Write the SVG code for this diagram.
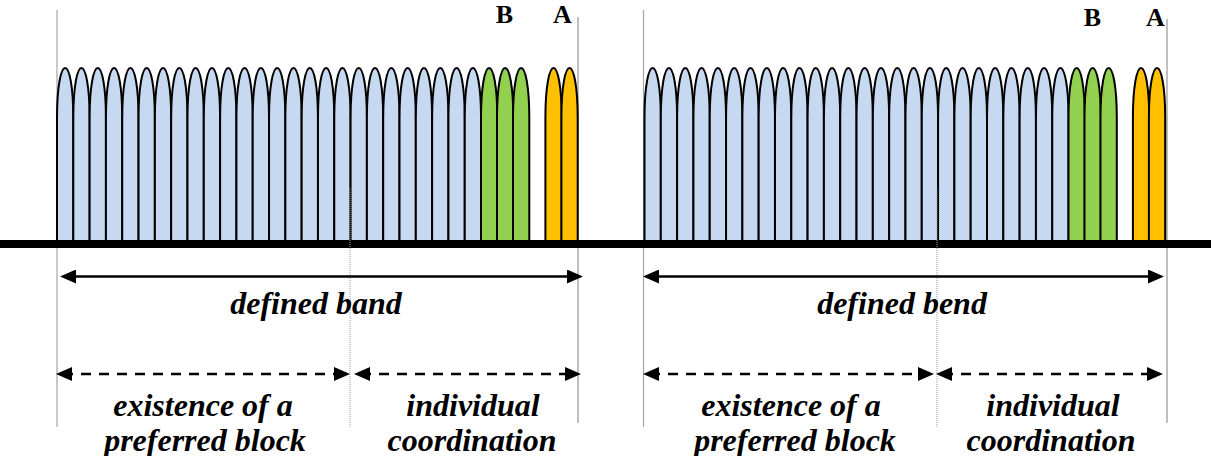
<svg xmlns="http://www.w3.org/2000/svg" xmlns:xlink="http://www.w3.org/1999/xlink" width="1211" height="456" viewBox="0 0 1211 456">
<style>
.lobe{stroke:#000;stroke-width:2;stroke-linejoin:round}
.blue{fill:#C6D9F1}
.green{fill:#92D050}
.orange{fill:#FFC000}
.guide{stroke:#a6a6a6;stroke-width:1.2;fill:none}
.guide2{stroke:#bfbfbf;stroke-width:2;fill:none}
.dots{stroke:#9a9a9a;stroke-width:1;stroke-dasharray:1 1;fill:none}
.arr{stroke:#000;stroke-width:2.5;fill:none;marker-start:url(#ah);marker-end:url(#ah)}
.dash{stroke-dasharray:10 8}
.lbl{font-family:"Liberation Serif","Times New Roman",serif;font-weight:bold;font-style:italic;font-size:32px;fill:#000;text-anchor:middle}
.ch{font-family:"Liberation Serif","Times New Roman",serif;font-weight:bold;font-size:26px;fill:#000;text-anchor:middle}
</style>
<defs>
<path id="lb" d="M0,240 V118 C0,86 4,68 8.15,68 C12.3,68 16.3,86 16.3,118 V240"/>
<marker id="ah" markerUnits="userSpaceOnUse" markerWidth="16" markerHeight="14" refX="9" refY="7" orient="auto-start-reverse">
<path d="M0,0 L16,7 L0,14 Z" fill="#000"/>
</marker>
<g id="panel">
<g class="lobe blue">
<use xlink:href="#lb" x="57"/><use xlink:href="#lb" x="73.31"/><use xlink:href="#lb" x="89.62"/><use xlink:href="#lb" x="105.93"/><use xlink:href="#lb" x="122.24"/><use xlink:href="#lb" x="138.55"/><use xlink:href="#lb" x="154.86"/><use xlink:href="#lb" x="171.17"/><use xlink:href="#lb" x="187.48"/><use xlink:href="#lb" x="203.79"/><use xlink:href="#lb" x="220.1"/><use xlink:href="#lb" x="236.41"/><use xlink:href="#lb" x="252.72"/><use xlink:href="#lb" x="269.03"/><use xlink:href="#lb" x="285.34"/><use xlink:href="#lb" x="301.65"/><use xlink:href="#lb" x="317.96"/><use xlink:href="#lb" x="334.27"/><use xlink:href="#lb" x="350.58"/><use xlink:href="#lb" x="366.89"/><use xlink:href="#lb" x="383.2"/><use xlink:href="#lb" x="399.51"/><use xlink:href="#lb" x="415.82"/><use xlink:href="#lb" x="432.13"/><use xlink:href="#lb" x="448.44"/><use xlink:href="#lb" x="464.75"/>
</g>
<g class="lobe green">
<use xlink:href="#lb" x="481"/><use xlink:href="#lb" x="497"/><use xlink:href="#lb" x="513"/>
</g>
<g class="lobe orange">
<use xlink:href="#lb" x="545.4"/><use xlink:href="#lb" x="561.4"/>
</g>
</g>
</defs>

<g id="guides">
<line class="guide" x1="57" y1="10" x2="57" y2="427"/>
<line class="guide2" x1="578" y1="17" x2="578" y2="423"/>
<line class="guide" x1="643.5" y1="10" x2="643.5" y2="427"/>
<line class="guide2" x1="1167" y1="19" x2="1167" y2="423"/>
</g>

<g id="spectrum-left">
<use xlink:href="#panel"/>
</g>
<g id="spectrum-right">
<use xlink:href="#panel" transform="translate(587.5,0)"/>
</g>

<rect id="axis" x="0" y="240" width="1211" height="8" fill="#000"/>

<g id="dividers">
<line class="dots" x1="350" y1="188" x2="350" y2="427"/>
<line class="dots" x1="937" y1="188" x2="937" y2="427"/>
</g>

<g id="label-B-left"><text class="ch" x="504.5" y="23">B</text></g>
<g id="label-A-left"><text class="ch" x="562.5" y="23">A</text></g>
<g id="label-B-right"><text class="ch" x="1092.5" y="26">B</text></g>
<g id="label-A-right"><text class="ch" x="1155.5" y="26">A</text></g>

<g id="connectors">
<line class="arr" x1="67" y1="276.5" x2="576" y2="276.5"/>
<line class="arr" x1="650" y1="276.5" x2="1157" y2="276.5"/>
<line class="arr dash" x1="63" y1="374" x2="343" y2="374"/>
<line class="arr dash" x1="361" y1="374" x2="574" y2="374"/>
<line class="arr dash" x1="650" y1="374" x2="927" y2="374"/>
<line class="arr dash" x1="943" y1="374" x2="1156" y2="374"/>
</g>

<g id="text-left">
<text class="lbl" x="316" y="314">defined band</text>
<text class="lbl" x="203" y="416">existence of a</text>
<text class="lbl" x="205" y="451">preferred block</text>
<text class="lbl" x="473" y="416">individual</text>
<text class="lbl" x="472" y="451">coordination</text>
</g>
<g id="text-right">
<text class="lbl" x="902" y="314">defined bend</text>
<text class="lbl" x="791" y="416">existence of a</text>
<text class="lbl" x="795" y="451">preferred block</text>
<text class="lbl" x="1053" y="416">individual</text>
<text class="lbl" x="1051" y="451">coordination</text>
</g>
</svg>
